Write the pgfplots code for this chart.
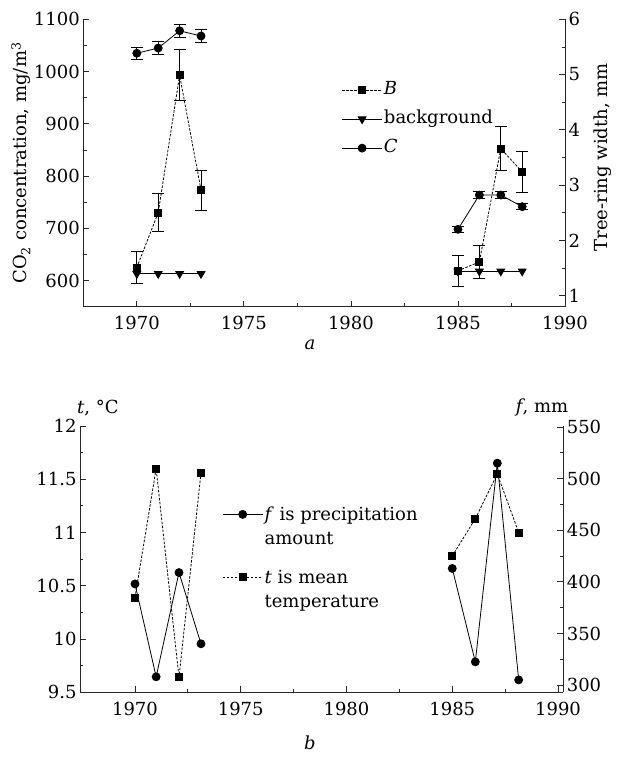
\documentclass[border=0pt]{standalone}
\usepackage{fontspec}
\setmainfont{DejaVu Serif}
\usepackage{pgfplots}
\pgfplotsset{compat=1.18}

\pgfplotsset{
  panel/.style={
    scale only axis,
    tick align=inside,
    axis line style={black!85, line width=0.9pt},
    tick style={black!85, line width=0.8pt},
    major tick length=6pt,
    minor tick length=3.5pt,
    /pgf/number format/assume math mode=true,
    /pgf/number format/1000 sep={},
    tick label style={font=\fontsize{18}{24}\selectfont},
    xticklabel style={yshift=-6pt},
    label style={font=\fontsize{18}{24}\selectfont},
    xtick={1970,1975,1980,1985,1990},
    minor x tick num=1,
    clip=false,
  },
  leftax/.style={panel, axis x line*=bottom, axis y line*=left},
  rightax/.style={panel, axis x line=none, axis y line*=right},
  serB/.style={black, line width=0.8pt, dash pattern=on 2.5pt off 1.5pt, mark=square*, mark size=3.5pt, mark options={solid}},
  serBg/.style={black, line width=0.8pt, solid, mark=triangle*, mark size=4.5pt, mark options={solid, rotate=180}},
  serC/.style={black, line width=0.8pt, solid, mark=*, mark size=4pt},
  ebar/.style={error bars/y dir=both, error bars/y explicit, error bars/error mark=-,
    error bars/error bar style={solid, line width=0.8pt},
    error bars/error mark options={rotate=90, solid, mark size=6pt, line width=0.8pt}},
  legimg/.style={legend image code/.code={
    \draw[mark repeat=2, mark phase=2, ##1] plot coordinates {(0pt,#1)(20pt,#1)(40pt,#1)};}},
}

\begin{document}
\begin{tikzpicture}[font=\fontsize{18}{24}\selectfont]
\useasboundingbox (0pt,0pt) rectangle (616pt,760pt);

% ---------- panel a ----------
\begin{axis}[leftax, at={(83.3pt,453.3pt)}, anchor=south west,
  width=481.7pt, height=287.4pt,
  xmin=1967.5, xmax=1990, ymin=550, ymax=1100,
  ytick={600,700,...,1100}, minor y tick num=1,
  ylabel={CO\textsubscript{2} concentration, mg/m\textsuperscript{3}},
  ylabel style={at={(axis description cs:-0.129,0.5)}, anchor=center}]
\addplot[serB, ebar] coordinates {
  (1970,625) +- (0,31)
  (1971,730) +- (0,36)
  (1972,993) +- (0,49)
  (1973,773) +- (0,38)
};
\addplot[serBg] coordinates {(1970,613) (1971,613) (1972,613) (1973,613)};
\addplot[serC, ebar] coordinates {
  (1970,1035) +- (0,12)
  (1971,1045) +- (0,12)
  (1972,1078) +- (0,13)
  (1973,1068) +- (0,12)
};
\end{axis}

\begin{axis}[rightax, at={(83.3pt,453.3pt)}, anchor=south west,
  width=481.7pt, height=287.4pt,
  xmin=1967.5, xmax=1990, ymin=0.8, ymax=6,
  ytick={1,...,6}, minor y tick num=1,
  ylabel={Tree-ring width, mm},
  ylabel style={at={(axis description cs:1.079,0.52)}, anchor=center},
  legimg=0pt,
  legend cell align=left,
  legend style={draw=none, fill=none, at={(axis description cs:0.536,0.789)}, anchor=north west,
    inner sep=0pt, row sep=9pt, font=\fontsize{18}{24}\selectfont,
    nodes={inner sep=1.5pt, text height=13pt, text depth=4pt}}]
\addplot[serB, ebar] coordinates {
  (1985,1.45) +- (0,0.28)
  (1986,1.61) +- (0,0.30)
  (1987,3.66) +- (0,0.40)
  (1988,3.24) +- (0,0.37)
};
\addlegendentry{\textit{B}}
\addplot[serBg] coordinates {(1985,1.44) (1986,1.44) (1987,1.44) (1988,1.44)};
\addlegendentry{background}
\addplot[serC, ebar] coordinates {
  (1985,2.20) +- (0,0.05)
  (1986,2.82) +- (0,0.06)
  (1987,2.82) +- (0,0.06)
  (1988,2.61) +- (0,0.05)
};
\addlegendentry{\textit{C}}
\end{axis}

\node[font=\fontsize{18}{24}\selectfont\itshape] at (310pt,415pt) {a};

% ---------- panel b ----------
\begin{axis}[leftax, at={(80pt,67.7pt)}, anchor=south west,
  width=483.3pt, height=266.3pt,
  xmin=1967.4, xmax=1990.25, ymin=9.5, ymax=12,
  ytick={9.5,10,10.5,11,11.5,12}, minor y tick num=1,
  ylabel={\textit{t}, °C},
  ylabel style={rotate=-90, at={(axis description cs:0.037,1.068)}, anchor=center}]
\addplot[serB] coordinates {(1970,10.39) (1971,11.60) (1972.08,9.64) (1973.12,11.56)};
\addplot[serB] coordinates {(1985,10.78) (1986.09,11.13) (1987.13,11.55) (1988.14,11.0)};
\end{axis}

\begin{axis}[rightax, at={(80pt,67.7pt)}, anchor=south west,
  width=483.3pt, height=266.3pt,
  xmin=1967.4, xmax=1990.25, ymin=293, ymax=551,
  ytick={300,350,...,550}, minor y tick num=1,
  ylabel={\textit{f}, mm},
  ylabel style={rotate=-90, at={(axis description cs:0.956,1.068)}, anchor=center},
  legimg=12pt,
  legend cell align=left,
  legend style={draw=none, fill=none, at={(axis description cs:0.294,0.703)}, anchor=north west,
    inner sep=0pt, row sep=21pt, font=\fontsize{18}{24}\selectfont,
    nodes={inner sep=1.5pt, align=left}}]
\addplot[serC] coordinates {(1970,398) (1971,308) (1972.08,409) (1973.12,340)};
\addlegendentry{\textit{f} is precipitation\\amount}
\addplot[serC, forget plot] coordinates {(1985,413) (1986.09,322.5) (1987.13,515) (1988.14,305)};
\addlegendimage{serB}
\addlegendentry{\textit{t} is mean\\temperature}
\end{axis}

\node[font=\fontsize{18}{24}\selectfont\itshape] at (310pt,17pt) {b};
\end{tikzpicture}
\end{document}
